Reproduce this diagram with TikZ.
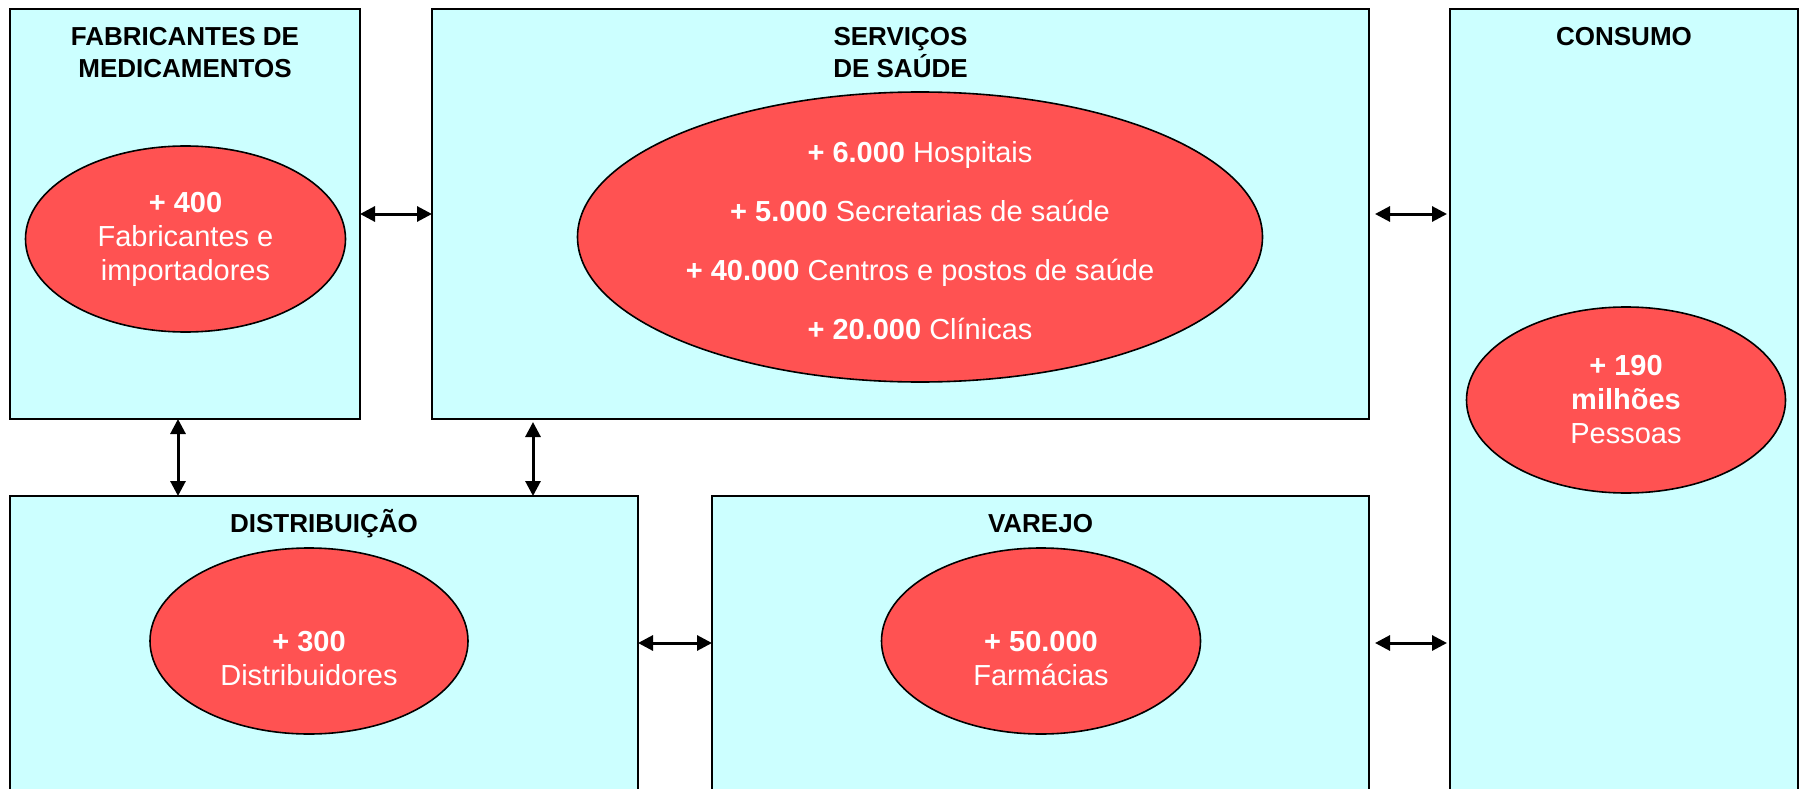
\documentclass[tikz,border=0pt]{standalone}
\usepackage{fontspec}
\setmainfont{Liberation Sans}
\usetikzlibrary{arrows.meta,positioning,shapes.geometric}
\definecolor{boxcyan}{RGB}{204,255,255}
\definecolor{ovalred}{RGB}{255,82,82}
\tikzset{
	sector/.style={rectangle, draw=black, line width=2pt, fill=boxcyan, anchor=north west, inner sep=0pt, outer sep=0pt},
	sectortitle/.style={align=center, inner sep=0pt, font=\fontsize{26}{32}\selectfont\bfseries},
	oval/.style={ellipse, draw=black, line width=1.6pt, fill=ovalred, inner sep=0pt, text=white, align=center, font=\fontsize{29}{34}\selectfont},
	ovaltext/.style={inner sep=0pt, text=white, align=center, font=\fontsize{29}{34}\selectfont},
	link/.style={line width=3pt, {Triangle[length=15pt,width=15pt]}-{Triangle[length=15pt,width=15pt]}},
}

\begin{document}
\begin{tikzpicture}[x=1pt,y=-1pt]
		%%%%% START %%%%%
		\clip (0,0) rectangle (1799,789);
		
		% sectors
		\node[sector, minimum width=350pt, minimum height=410pt] (fab) at (10,9) {};
		\node[sector, minimum width=937pt, minimum height=410pt] (serv) at (432,9) {};
		\node[sector, minimum width=348pt, minimum height=800pt] (cons) at (1450,9) {};
		\node[sector, minimum width=628pt, minimum height=294pt] (dist) at (10,496) {};
		\node[sector, minimum width=657pt, minimum height=294pt] (varejo) at (712,496) {};
		
		\node[sectortitle, below=13pt of fab.north] (fabTitle) {\vphantom{Ã}FABRICANTES DE\\MEDICAMENTOS};
		\node[sectortitle, below=13pt of serv.north] (servTitle) {\vphantom{Ã}SERVIÇOS\\DE SAÚDE};
		\node[sectortitle, below=13pt of cons.north] (consTitle) {\vphantom{Ã}CONSUMO};
		\node[sectortitle, below=13pt of dist.north] (distTitle) {\vphantom{Ã}DISTRIBUIÇÃO};
		\node[sectortitle, below=13pt of varejo.north] (varejoTitle) {\vphantom{Ã}VAREJO};
		
		% ovals
		\node[oval, minimum width=320pt, minimum height=186pt] (fabOval) at (185.5,239) {\textbf{+ 400}\\Fabricantes e\\importadores};
		\node[oval, minimum width=685pt, minimum height=290pt] (servOval) at (920,237) {};
		\node[ovaltext, font=\fontsize{29}{59}\selectfont] (servText) at ([yshift=-4pt]servOval.center)
			{\textbf{+ 6.000} Hospitais\\\textbf{+ 5.000} Secretarias de saúde\\\textbf{+ 40.000} Centros e postos de saúde\\\textbf{+ 20.000} Clínicas};
		\node[oval, minimum width=319pt, minimum height=186pt] (consOval) at (1626,400) {\textbf{+ 190}\\\textbf{milhões}\\Pessoas};
		\node[oval, minimum width=318pt, minimum height=186pt] (distOval) at (309,641) {};
		\node[ovaltext, below=-10pt of distOval.center] (distText) {\textbf{+ 300}\\Distribuidores};
		\node[oval, minimum width=319pt, minimum height=186pt] (varejoOval) at (1041,641) {};
		\node[ovaltext, below=-10pt of varejoOval.center] (varejoText) {\textbf{+ 50.000}\\Farmácias};
		
		% links
		\draw[link] (fab.east) -- (fab.east -| serv.west);
		\draw[link] ([xshift=6pt]serv.east) -- ([xshift=-3pt]serv.east -| cons.west);
		\draw[link] (dist.east) -- (varejo.west);
		\draw[link] ([xshift=6pt]varejo.east) -- ([xshift=-3pt]varejo.east -| cons.west);
		\draw[link] ([xshift=-7pt]fab.south) -- ([xshift=-7pt]fab.south |- dist.north);
		\draw[link] ([xshift=101pt,yshift=-3pt]serv.south west) -- ([xshift=101pt]serv.south west |- dist.north);
		%%%%% END %%%%%
	\end{tikzpicture}
\end{document}
